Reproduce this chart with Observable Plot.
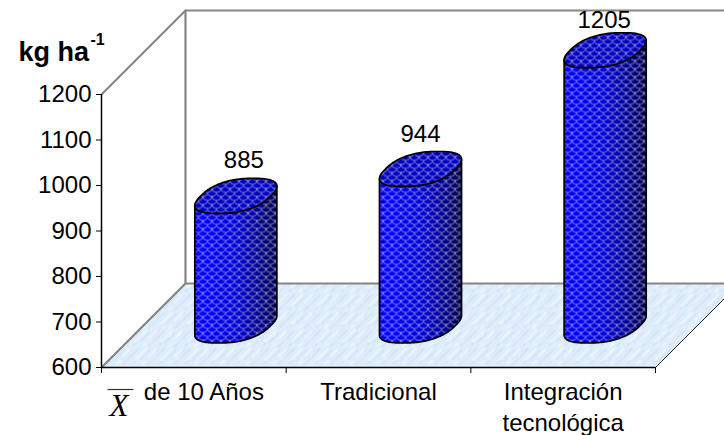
<!DOCTYPE html>
<html><head><meta charset="utf-8">
<script src="https://cdn.jsdelivr.net/npm/d3@7"></script>
<script src="https://cdn.jsdelivr.net/npm/@observablehq/plot@0.6"></script>
<style>
html,body{margin:0;padding:0;background:#fff;overflow:hidden}
svg{display:block}
</style></head><body>
<script>
const categories = ["de 10 Años", "Tradicional", "Integración\ntecnológica"];
const values = [885, 944, 1205];
const yTicks = [600, 700, 800, 900, 1000, 1100, 1200];
const xTicks = [0, 1, 2, 3];
const labelDx = [8, 0, -1];
const labelDy = [-28, -27, -22];
const catDx = [10, 0, 0];

const yMin = 600, yMax = 1200;
// oblique projection: depth 0 = front plane, depth 1 = back wall
const px = 184.67, pv = 0.455;            // pixels per category, per kg
const dX = 84 / px, dV = 84 / pv;
const P = (c, v, d) => ({x: c + d * dX, y: v + d * dV});
const aPx = 35, dPx = 17.5, sq = 0.82;    // half-width, depth half-extent, squareness of the section
const pow = u => Math.sign(u) * Math.abs(u) ** sq;
const ring = (i, v, t) => P(i + 0.5 + aPx / px * pow(Math.cos(t)), v, 0.5 + dPx / 84 * pow(Math.sin(t)));
const N = 120, ts = d3.range(N + 1).map(k => k / N * 2 * Math.PI);
// angle of the section's right extreme on screen
const ext = d3.greatest(ts, t => aPx * pow(Math.cos(t)) + dPx * pow(Math.sin(t)));
const top_ = values.map((v, i) => ts.map(t => ring(i, v, t)));
const front = values.map((v, i) => {
  // silhouette: from left extreme along the front half of the top ring, down the right side, back along the base ring
  const a = d3.range(N + 1).map(k => ring(i, v, Math.PI + ext + k / N * Math.PI));
  const b = d3.range(N + 1).map(k => ring(i, yMin, ext + 2 * Math.PI - k / N * Math.PI));
  return [...a, ...b, a[0]];
});
const floor = [P(0, yMin, 0), P(0, yMin, 1), P(3, yMin, 1), P(3, yMin, 0), P(0, yMin, 0)];

const cylinderMarks = front.flatMap((f, i) => [
  Plot.line(f, {x: "x", y: "y", fill: "url(#bodyGrad)", stroke: "none", curve: "linear"}),
  Plot.line(f, {x: "x", y: "y", fill: "url(#scale)", stroke: "#000", strokeWidth: 1.7, curve: "linear"}),
  Plot.line(top_[i], {x: "x", y: "y", fill: "#0000c0", stroke: "none", curve: "linear"}),
  Plot.line(top_[i], {x: "x", y: "y", fill: "url(#scale)", stroke: "#000", strokeWidth: 1.7, curve: "linear"})
]);

const valueMarks = values.map((v, i) => Plot.text([v], {
  x: () => P(i + 0.5, v, 0.5).x, y: () => P(i + 0.5, v, 0.5).y,
  text: d => String(d), fontSize: 24, lineAnchor: "bottom", textAnchor: "middle",
  dx: labelDx[i], dy: labelDy[i]
}));
const catMarks = categories.map((c, i) => Plot.text([c], {
  x: () => i + 0.5, y: () => yMin, text: d => d,
  fontSize: 24, lineHeight: 1.3, lineAnchor: "top", textAnchor: "middle",
  dx: catDx[i], dy: 10
}));

const chart = Plot.plot({
  width: 724, height: 435,
  marginLeft: 101, marginRight: 69, marginTop: 94, marginBottom: 68,
  x: {domain: [0, 3], axis: null},
  y: {domain: [yMin, yMax], axis: null},
  style: {fontFamily: "'Liberation Sans', Arial, sans-serif", background: "#fff", color: "#000", overflow: "hidden"},
  marks: [
    Plot.line(floor, {x: "x", y: "y", fill: "url(#floorTex)", stroke: "none"}),
    // wall and floor edges
    Plot.line([P(0, yMax, 0), P(0, yMax, 1), P(3, yMax, 1)], {x: "x", y: "y", stroke: "#858585", strokeWidth: 2.2}),
    Plot.line([P(0, yMin, 0), P(0, yMin, 1), P(3, yMin, 1)], {x: "x", y: "y", stroke: "#858585", strokeWidth: 2.2}),
    Plot.line([P(0, yMin, 1), P(0, yMax, 1)], {x: "x", y: "y", stroke: "#858585", strokeWidth: 2.2}),
    Plot.line([P(3, yMin, 0), P(3, yMin, 1)], {x: "x", y: "y", stroke: "#222", strokeWidth: 1}),
    ...cylinderMarks,
    // axes
    Plot.ruleX([0], {y1: yMin, y2: yMax, stroke: "#000", strokeWidth: 1.5}),
    Plot.ruleY([yMin], {x1: 0, x2: 3, stroke: "#000", strokeWidth: 1.5}),
    Plot.axisY({ticks: yTicks, tickSize: 5, tickPadding: 5, fontSize: 24, label: null, tickFormat: d => String(d), stroke: "#000"}),
    Plot.axisX({ticks: xTicks, tickSize: 6, tickFormat: () => "", label: null, stroke: "#000"}),
    ...valueMarks,
    ...catMarks,
    // X-bar of "X̄ de 10 Años"
    Plot.text(["X"], {x: () => 0, y: () => yMin, text: d => d, fontFamily: "'Liberation Serif', serif", fontStyle: "italic", fontSize: 31, dx: 17.5, dy: 48, lineAnchor: "bottom", textAnchor: "middle"}),
    Plot.link([0], {x1: () => 6 / px, x2: () => 32 / px, y1: () => yMin, y2: () => yMin, dy: 22, stroke: "#333", strokeWidth: 1.2}),
    // unit title
    Plot.text(["kg ha"], {x: () => 0, y: () => yMax, text: d => d, fontWeight: "bold", fontSize: 27, textAnchor: "start", lineAnchor: "bottom", dx: -83, dy: -34}),
    Plot.text(["-1"], {x: () => 0, y: () => yMax, text: d => d, fontWeight: "bold", fontSize: 16, textAnchor: "start", lineAnchor: "bottom", dx: -11, dy: -50})
  ]
});

const ns = "http://www.w3.org/2000/svg";
const defs = document.createElementNS(ns, "defs");
defs.innerHTML = `
<linearGradient id="bodyGrad" x1="0" x2="1" y1="0" y2="0">
  <stop offset="0" stop-color="#0000e8"/><stop offset=".1" stop-color="#0000ff"/>
  <stop offset=".5" stop-color="#0000d4"/><stop offset=".8" stop-color="#00008c"/>
  <stop offset="1" stop-color="#000048"/>
</linearGradient>
<pattern id="scale" width="9" height="8" patternUnits="userSpaceOnUse">
  <path d="M0 0A4.5 4 0 0 0 9 0M-4.5 4A4.5 4 0 0 0 4.5 4M4.5 4A4.5 4 0 0 0 13.5 4M0 8A4.5 4 0 0 0 9 8" fill="none" stroke="#fff" stroke-opacity=".7" stroke-width=".8"/>
</pattern>
<pattern id="floorTex" width="26" height="18" patternUnits="userSpaceOnUse">
  <rect width="26" height="18" fill="#deedfb"/>
  <path d="M0 14L8 6M9 18L20 7M18 4L22 0M3 3L6 0" stroke="#cadbf6" stroke-width="1.4" stroke-opacity=".7"/>
  <path d="M4 18L16 6M18 14L26 6M12 4L16 0" stroke="#f3f9fe" stroke-width="1.5"/>
  <path d="M22 18L26 14M0 9L3 6" stroke="#e6def6" stroke-width="1.2"/>
</pattern>`;
chart.prepend(defs);
document.body.appendChild(chart);
</script>
</body></html>
